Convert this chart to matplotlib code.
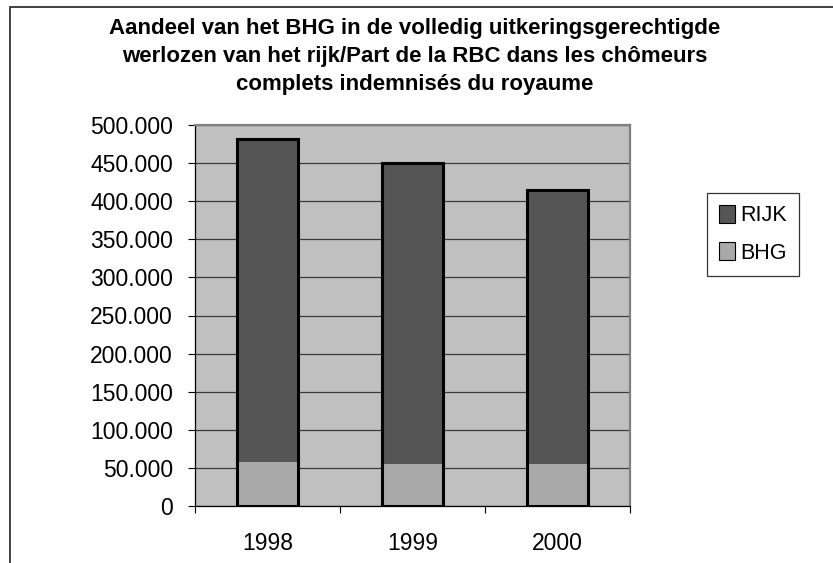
import matplotlib
matplotlib.use("Agg")
import matplotlib.pyplot as plt
from matplotlib.patches import Rectangle
from matplotlib.ticker import FuncFormatter, MultipleLocator

years = ["1998", "1999", "2000"]
rijk = [481000, 449500, 415000]
bhg = [57400, 54800, 54800]
title = ("Aandeel van het BHG in de volledig uitkeringsgerechtigde\n"
         "werlozen van het rijk/Part de la RBC dans les chômeurs\n"
         "complets indemnisés du royaume")

plt.rcParams['font.family'] = ['Liberation Sans', 'DejaVu Sans']

fig = plt.figure(figsize=(8.33, 5.63), dpi=100)
ax = fig.add_axes([195 / 833, 57 / 563, 435 / 833, 381 / 563])
ax.set_facecolor('#c0c0c0')

x = list(range(len(years)))
w = 0.414
ax.bar(x, rijk, width=w, color='#555555', label='RIJK', zorder=2)
ax.bar(x, bhg, width=w, color='#a9a9a9', label='BHG', zorder=3)
# outline round the full bar
ax.bar(x, rijk, width=w, fill=False, edgecolor='black', linewidth=2.2, zorder=4)

ax.set_xlim(-0.5, len(years) - 0.5)
ax.set_ylim(0, 500000)
ax.yaxis.set_major_locator(MultipleLocator(50000))
ax.yaxis.set_major_formatter(FuncFormatter(lambda v, p: f"{int(v):,}".replace(",", ".")))
ax.grid(axis='y', color='#3a3a3a', linewidth=0.9, zorder=1)
ax.set_axisbelow(True)

ax.set_xticks(x)
ax.set_xticklabels(years)
ax.set_xticks([i - 0.5 for i in range(len(years) + 1)], minor=True)
ax.tick_params(axis='x', which='major', length=0, pad=19, labelsize=16.5)
ax.tick_params(axis='x', which='minor', length=5, width=0.8, direction='out')
ax.tick_params(axis='y', length=5, width=0.8, direction='out', pad=11, labelsize=16.5)

for s in ['top', 'right']:
    ax.spines[s].set_color('#808080')
    ax.spines[s].set_linewidth(1.6)
for s in ['left', 'bottom']:
    ax.spines[s].set_color('black')
    ax.spines[s].set_linewidth(0.9)

fig.text(0.498, 1 - 18 / 563, title, ha='center', va='top', fontsize=16,
         fontweight='bold', linespacing=1.45)

h, l = ax.get_legend_handles_labels()
leg = fig.legend(h, l, loc='upper left', bbox_to_anchor=(707 / 833, 1 - 193 / 563),
                 borderaxespad=0, fontsize=15.5, frameon=True, fancybox=False,
                 handlelength=0.75, handleheight=0.9, handletextpad=0.25,
                 borderpad=0.55, labelspacing=0.75)
leg.get_frame().set_edgecolor('black')
leg.get_frame().set_linewidth(0.9)
for p in leg.get_patches():
    p.set_edgecolor('black')
    p.set_linewidth(0.8)

fig.add_artist(Rectangle((10 / 833, -0.2), 1.2, 1.2 - 7 / 563, transform=fig.transFigure,
                         fill=False, edgecolor='#333333', linewidth=1.3))

fig.savefig("out.png", dpi=100)
